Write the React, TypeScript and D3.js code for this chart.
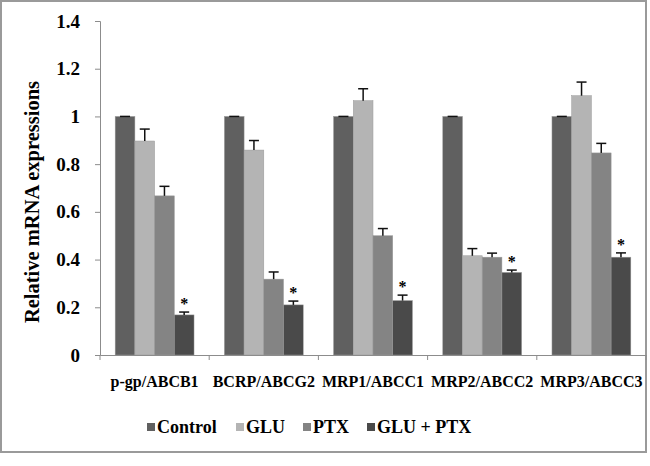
import React, { useEffect, useRef } from "react";
import * as d3 from "d3";

const categories = ["p-gp/ABCB1", "BCRP/ABCG2", "MRP1/ABCC1", "MRP2/ABCC2", "MRP3/ABCC3"];
const seriesNames = ["Control", "GLU", "PTX", "GLU + PTX"];
const control = [1, 1, 1, 1, 1];
const glu = [0.897, 0.859, 1.066, 0.416, 1.087];
const ptx = [0.667, 0.318, 0.5, 0.41, 0.847];
const gluPtx = [0.168, 0.21, 0.228, 0.346, 0.41];
const controlErr = [0, 0, 0, 0, 0];
const gluErr = [0.05, 0.04, 0.05, 0.03, 0.057];
const ptxErr = [0.04, 0.03, 0.03, 0.017, 0.04];
const gluPtxErr = [0.012, 0.016, 0.023, 0.01, 0.018];
const significant = [true, true, true, true, true];
const yTicks = [0, 0.2, 0.4, 0.6, 0.8, 1, 1.2, 1.4];
const colors = ["#606060", "#b4b4b4", "#848484", "#4a4a4a"];

const values = [control, glu, ptx, gluPtx];
const errors = [controlErr, gluErr, ptxErr, gluPtxErr];

const W = 650;
const H = 466;
const FONT = "Liberation Serif";

const App = () => {
    const ref = useRef<SVGSVGElement>(null);

    useEffect(() => {
        const svg = d3.select(ref.current);
        svg.selectAll("*").remove();

        // outer frame
        svg.append("rect")
            .attr("x", 1).attr("y", 1)
            .attr("width", 645).attr("height", 451)
            .attr("fill", "#fff")
            .attr("stroke", "#9a9a9a")
            .attr("stroke-width", 2);

        const y = d3.scaleLinear().domain([0, 1.4]).range([355, 21]);
        const x0 = d3.scaleBand().domain(categories).range([100, 646]);
        const x1 = d3.scaleBand().domain(seriesNames)
            .range([0, x0.bandwidth()])
            .paddingInner(0)
            .paddingOuter(0.77);

        // y axis
        const yAxis = d3.axisLeft(y)
            .tickValues(yTicks)
            .tickSize(5)
            .tickFormat(d => String(+d));
        const gy = svg.append("g").attr("transform", "translate(100,0)").call(yAxis);
        gy.attr("font-family", FONT);
        gy.select(".domain").attr("stroke", "#8c8c8c");
        gy.selectAll(".tick line").attr("stroke", "#8c8c8c");
        gy.selectAll(".tick text")
            .attr("x", -20)
            .attr("fill", "#000")
            .attr("font-family", FONT)
            .attr("font-size", 19)
            .attr("font-weight", "bold");

        // bars
        categories.forEach((cat, ci) => {
            const g = svg.append("g").attr("transform", `translate(${x0(cat)},0)`);
            seriesNames.forEach((s, si) => {
                const v = values[si][ci];
                const e = errors[si][ci];
                const bx = x1(s) as number;
                const bw = x1.bandwidth();
                g.append("rect")
                    .attr("x", bx)
                    .attr("y", y(v))
                    .attr("width", bw)
                    .attr("height", y(0) - y(v))
                    .attr("fill", colors[si])
                    .attr("stroke", "#9a9a9a")
                    .attr("stroke-width", 0.5);
                const cx = bx + bw / 2;
                // error bar
                g.append("line")
                    .attr("x1", cx).attr("x2", cx)
                    .attr("y1", y(v)).attr("y2", y(v + e))
                    .attr("stroke", "#111").attr("stroke-width", 1.5);
                g.append("line")
                    .attr("x1", cx - 5).attr("x2", cx + 5)
                    .attr("y1", y(v + e)).attr("y2", y(v + e))
                    .attr("stroke", "#111").attr("stroke-width", 1.5);
                if (si === 3 && significant[ci]) {
                    g.append("text")
                        .attr("x", cx)
                        .attr("y", y(v + e) - 3)
                        .attr("text-anchor", "middle")
                        .attr("font-family", FONT)
                        .attr("font-size", 16)
                        .attr("font-weight", "bold")
                        .text("*");
                }
            });
        });

        // x axis
        const xAxis = d3.axisBottom(x0).tickSize(0).tickFormat(() => "");
        const gx = svg.append("g").attr("transform", "translate(0,355)").call(xAxis);
        gx.select(".domain").attr("stroke", "#8c8c8c");
        gx.selectAll(".tick").remove();
        const bounds = d3.range(categories.length + 1).map(i => 100 + i * x0.step());
        gx.selectAll(".sep")
            .data(bounds)
            .enter()
            .append("line")
            .attr("x1", d => d).attr("x2", d => d)
            .attr("y1", 0).attr("y2", 5)
            .attr("stroke", "#8c8c8c");

        svg.selectAll(".cat")
            .data(categories)
            .enter()
            .append("text")
            .attr("x", d => (x0(d) as number) + x0.bandwidth() / 2)
            .attr("y", 387)
            .attr("text-anchor", "middle")
            .attr("font-family", FONT)
            .attr("font-size", 16)
            .attr("font-weight", "bold")
            .text(d => d);

        // y label
        svg.append("text")
            .attr("transform", "translate(39,202) rotate(-90)")
            .attr("text-anchor", "middle")
            .attr("font-family", FONT)
            .attr("font-size", 20.5)
            .attr("font-weight", "bold")
            .text("Relative mRNA expressions");

        // legend
        const legendX = [147, 236, 303, 367];
        const lg = svg.selectAll(".leg")
            .data(seriesNames)
            .enter()
            .append("g")
            .attr("transform", (d, i) => `translate(${legendX[i]},427)`);
        lg.append("rect")
            .attr("x", 0).attr("y", -4)
            .attr("width", 8).attr("height", 8)
            .attr("fill", (d, i) => colors[i]);
        lg.append("text")
            .attr("x", 10)
            .attr("y", 6)
            .attr("font-family", FONT)
            .attr("font-size", 18)
            .attr("font-weight", "bold")
            .text(d => d);
    }, []);

    return (
        <div style={{ position: "absolute", left: 0, top: 0 }}>
            <svg ref={ref} width={W} height={H} style={{ display: "block", background: "#fff" }} />
        </div>
    );
};

export default App;
